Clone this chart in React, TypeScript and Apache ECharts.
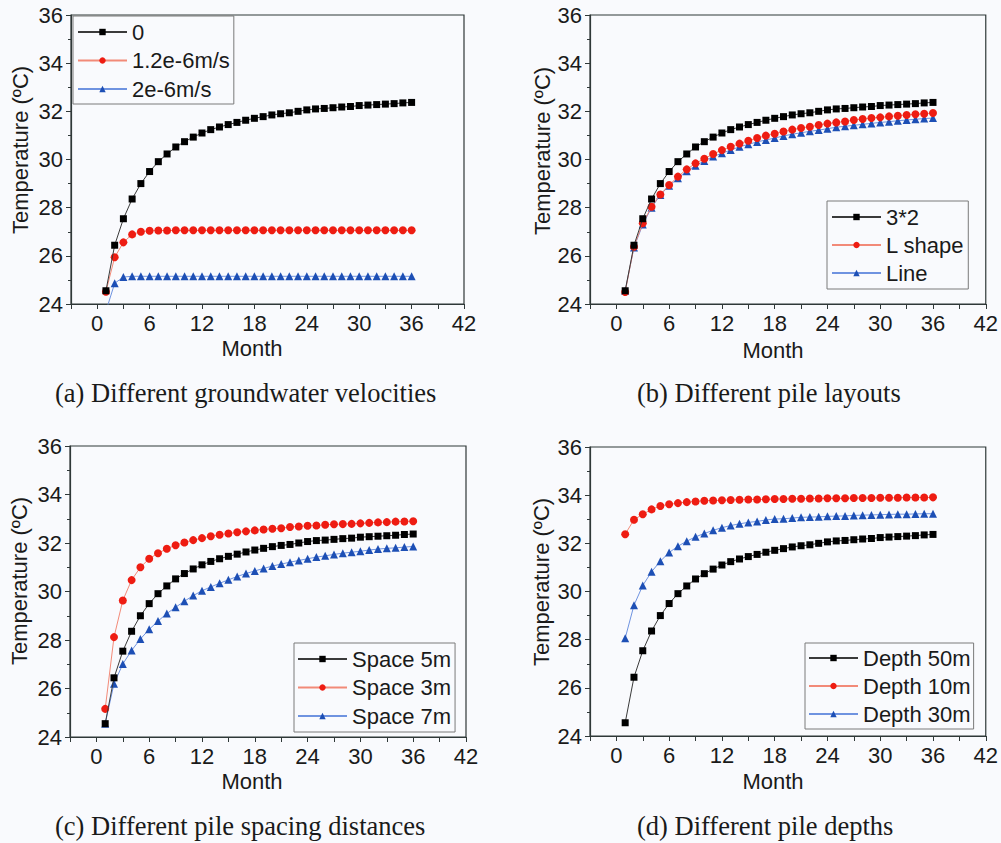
import { useEffect, useRef } from 'react';
import * as echarts from 'echarts';

const months = [1, 2, 3, 4, 5, 6, 7, 8, 9, 10, 11, 12, 13, 14, 15, 16, 17, 18, 19, 20, 21, 22, 23, 24, 25, 26, 27, 28, 29, 30, 31, 32, 33, 34, 35, 36];

// Reference case (velocity 0, 3*2 layout, spacing 5 m, depth 50 m)
const baseCase = [24.55, 26.44, 27.54, 28.36, 29.0, 29.5, 29.91, 30.23, 30.52, 30.74, 30.93, 31.1, 31.24, 31.35, 31.45, 31.54, 31.63, 31.71, 31.78, 31.85, 31.9, 31.94, 32.0, 32.06, 32.1, 32.12, 32.15, 32.18, 32.2, 32.24, 32.26, 32.28, 32.3, 32.32, 32.35, 32.37];

const velocity12 = [24.51, 25.94, 26.56, 26.89, 27.0, 27.04, 27.05, 27.05, 27.06, 27.06, 27.06, 27.06, 27.06, 27.06, 27.06, 27.06, 27.06, 27.06, 27.06, 27.06, 27.06, 27.06, 27.06, 27.06, 27.06, 27.06, 27.06, 27.06, 27.06, 27.06, 27.06, 27.06, 27.06, 27.06, 27.06, 27.06];
const velocity2 = [23.7, 24.86, 25.12, 25.15, 25.15, 25.15, 25.15, 25.15, 25.15, 25.15, 25.15, 25.15, 25.15, 25.15, 25.15, 25.15, 25.15, 25.15, 25.15, 25.15, 25.15, 25.15, 25.15, 25.15, 25.15, 25.15, 25.15, 25.15, 25.15, 25.15, 25.15, 25.15, 25.15, 25.15, 25.15, 25.15];

const layoutL = [24.5, 26.38, 27.35, 28.04, 28.55, 28.94, 29.29, 29.59, 29.84, 30.03, 30.23, 30.39, 30.53, 30.66, 30.78, 30.89, 30.99, 31.07, 31.16, 31.24, 31.31, 31.36, 31.43, 31.49, 31.54, 31.58, 31.64, 31.68, 31.72, 31.75, 31.79, 31.82, 31.85, 31.88, 31.9, 31.93];
const layoutLine = [24.55, 26.35, 27.3, 28.0, 28.53, 28.91, 29.22, 29.51, 29.74, 29.94, 30.12, 30.26, 30.39, 30.53, 30.63, 30.73, 30.81, 30.89, 30.98, 31.05, 31.11, 31.17, 31.22, 31.28, 31.34, 31.38, 31.42, 31.46, 31.5, 31.54, 31.57, 31.61, 31.64, 31.67, 31.7, 31.72];

const space3 = [25.16, 28.12, 29.63, 30.47, 31.0, 31.35, 31.58, 31.76, 31.91, 32.02, 32.12, 32.2, 32.28, 32.34, 32.39, 32.44, 32.48, 32.52, 32.56, 32.59, 32.61, 32.66, 32.68, 32.71, 32.72, 32.75, 32.77, 32.78, 32.79, 32.81, 32.83, 32.85, 32.86, 32.88, 32.89, 32.9];
const space7 = [24.55, 26.2, 27.01, 27.57, 28.04, 28.44, 28.78, 29.09, 29.35, 29.6, 29.83, 30.03, 30.19, 30.34, 30.48, 30.62, 30.74, 30.85, 30.95, 31.05, 31.13, 31.21, 31.28, 31.35, 31.42, 31.47, 31.53, 31.58, 31.62, 31.66, 31.71, 31.75, 31.78, 31.8, 31.83, 31.86];

const depth10 = [32.38, 32.98, 33.21, 33.41, 33.55, 33.62, 33.67, 33.71, 33.74, 33.77, 33.78, 33.79, 33.8, 33.81, 33.82, 33.82, 33.83, 33.84, 33.84, 33.85, 33.85, 33.86, 33.86, 33.87, 33.87, 33.87, 33.88, 33.88, 33.88, 33.89, 33.89, 33.89, 33.9, 33.9, 33.9, 33.91];
const depth30 = [28.06, 29.43, 30.25, 30.82, 31.26, 31.62, 31.88, 32.09, 32.27, 32.41, 32.54, 32.65, 32.74, 32.81, 32.87, 32.91, 32.97, 33.01, 33.02, 33.05, 33.08, 33.09, 33.1, 33.12, 33.13, 33.14, 33.16, 33.17, 33.18, 33.19, 33.2, 33.21, 33.21, 33.22, 33.23, 33.23];

const xTicks = [0, 6, 12, 18, 24, 30, 36, 42];
const yTicks = [24, 26, 28, 30, 32, 34, 36];

const panelNames = [
  ['0', '1.2e-6m/s', '2e-6m/s'],
  ['3*2', 'L shape', 'Line'],
  ['Space 5m', 'Space 3m', 'Space 7m'],
  ['Depth 50m', 'Depth 10m', 'Depth 30m'],
];
const panelValues = [
  [baseCase, velocity12, velocity2],
  [baseCase, layoutL, layoutLine],
  [baseCase, space3, space7],
  [baseCase, depth10, depth30],
];
const captions = [
  '(a) Different groundwater velocities',
  '(b) Different pile layouts',
  '(c) Different pile spacing distances',
  '(d) Different pile depths',
];

const SANS = '"Liberation Sans", Arial, sans-serif';
const SERIF = '"Liberation Serif", "Times New Roman", serif';

const grids = [
  { left: 71, top: 15, width: 393, height: 289 },
  { left: 590, top: 15, width: 397, height: 289 },
  { left: 70, top: 446, width: 396, height: 291 },
  { left: 590, top: 447, width: 397, height: 289 },
];
const legends = [
  { left: 73, top: 16, padding: [5, 4, 4, 4], itemGap: 6.5 },
  { left: 827, top: 201, padding: [5, 4, 5, 4], itemGap: 6 },
  { left: 294, top: 643, padding: [5, 4, 5, 3], itemGap: 6.5 },
  { left: 805, top: 643, padding: [4, 3, 4, 3], itemGap: 6 },
];
const yTitlePos = [
  { x: 20, y: 150 },
  { x: 542, y: 151 },
  { x: 19, y: 581 },
  { x: 541, y: 582 },
];
const xTitlePos = [
  { x: 252, y: 348 },
  { x: 773, y: 350 },
  { x: 252, y: 781 },
  { x: 773, y: 781 },
];
const captionPos = [
  { x: 55, y: 393 },
  { x: 637, y: 393 },
  { x: 55, y: 826 },
  { x: 637, y: 826 },
];

const styles = [
  { symbol: 'rect', symbolSize: 7, line: '#3a3a3a', item: '#000000' },
  { symbol: 'circle', symbolSize: 8, line: '#f28a78', item: '#ee1c12' },
  { symbol: 'triangle', symbolSize: 8, line: '#6f93e0', item: '#1d4fb5' },
];

function buildOption() {
  const grid: any[] = [];
  const xAxis: any[] = [];
  const yAxis: any[] = [];
  const series: any[] = [];
  const legend: any[] = [];
  const graphic: any[] = [];

  for (let p = 0; p < 4; p++) {
    grid.push({ ...grids[p], show: true, borderColor: '#2f3838', borderWidth: 1.2, backgroundColor: 'transparent' });
    xAxis.push({
      type: 'value',
      gridIndex: p,
      min: -3,
      max: 42,
      interval: 3,
      axisLine: { show: true, onZero: false, lineStyle: { color: '#2f3838', width: 1.2 } },
      axisTick: { show: true, length: 5, lineStyle: { color: '#2f3838', width: 1 } },
      axisLabel: {
        margin: 8,
        fontSize: 22,
        fontFamily: SANS,
        color: '#1a1a1a',
        formatter: (v: number) => (xTicks.indexOf(v) >= 0 ? String(v) : ''),
      },
      splitLine: { show: false },
    });
    yAxis.push({
      type: 'value',
      gridIndex: p,
      min: yTicks[0],
      max: yTicks[yTicks.length - 1],
      interval: 2,
      axisLine: { show: true, onZero: false, lineStyle: { color: '#2f3838', width: 1.2 } },
      axisTick: { show: true, length: 5, lineStyle: { color: '#2f3838', width: 1 } },
      minorTick: { show: true, splitNumber: 2, length: 3, lineStyle: { color: '#2f3838', width: 1 } },
      axisLabel: { margin: 8, fontSize: 22, fontFamily: SANS, color: '#1a1a1a' },
      splitLine: { show: false },
    });
    for (let s = 0; s < 3; s++) {
      const st = styles[s];
      series.push({
        type: 'line',
        name: panelNames[p][s],
        xAxisIndex: p,
        yAxisIndex: p,
        data: months.map((m, i) => [m, panelValues[p][s][i]]),
        symbol: st.symbol,
        symbolSize: st.symbolSize,
        showSymbol: true,
        clip: true,
        lineStyle: { color: st.line, width: 1 },
        itemStyle: { color: st.item },
        emphasis: { disabled: true },
        z: 3 - s,
      });
    }
    legend.push({
      data: panelNames[p],
      orient: 'vertical',
      left: legends[p].left,
      top: legends[p].top,
      padding: legends[p].padding,
      itemGap: legends[p].itemGap,
      itemWidth: 49,
      itemHeight: 8,
      borderColor: '#7a7a7a',
      borderWidth: 1,
      selectedMode: false,
      textStyle: { fontSize: 22, fontFamily: SANS, color: '#1a1a1a', lineHeight: 22 },
    });
    graphic.push({
      type: 'text',
      x: yTitlePos[p].x,
      y: yTitlePos[p].y,
      rotation: Math.PI / 2,
      style: {
        text: 'Temperature (ºC)',
        fontSize: 22,
        fontFamily: SANS,
        fill: '#1a1a1a',
        align: 'center',
        verticalAlign: 'middle',
      },
    });
    graphic.push({
      type: 'text',
      x: xTitlePos[p].x,
      y: xTitlePos[p].y,
      style: {
        text: 'Month',
        fontSize: 22,
        fontFamily: SANS,
        fill: '#1a1a1a',
        align: 'center',
        verticalAlign: 'middle',
      },
    });
    graphic.push({
      type: 'text',
      x: captionPos[p].x,
      y: captionPos[p].y,
      style: {
        text: captions[p],
        fontSize: 26.5,
        fontFamily: SERIF,
        fill: '#1a1a1a',
        align: 'left',
        verticalAlign: 'middle',
      },
    });
  }

  return {
    animation: false,
    backgroundColor: '#f9fafd',
    grid,
    xAxis,
    yAxis,
    series,
    legend,
    graphic,
  };
}

export default function App() {
  const ref = useRef<HTMLDivElement>(null);
  useEffect(() => {
    document.body.style.margin = '0';
    const chart = echarts.init(ref.current!, null, { renderer: 'svg' });
    chart.setOption(buildOption() as any);
    return () => chart.dispose();
  }, []);
  return <div ref={ref} style={{ width: 1001, height: 843, background: '#f9fafd' }} />;
}
